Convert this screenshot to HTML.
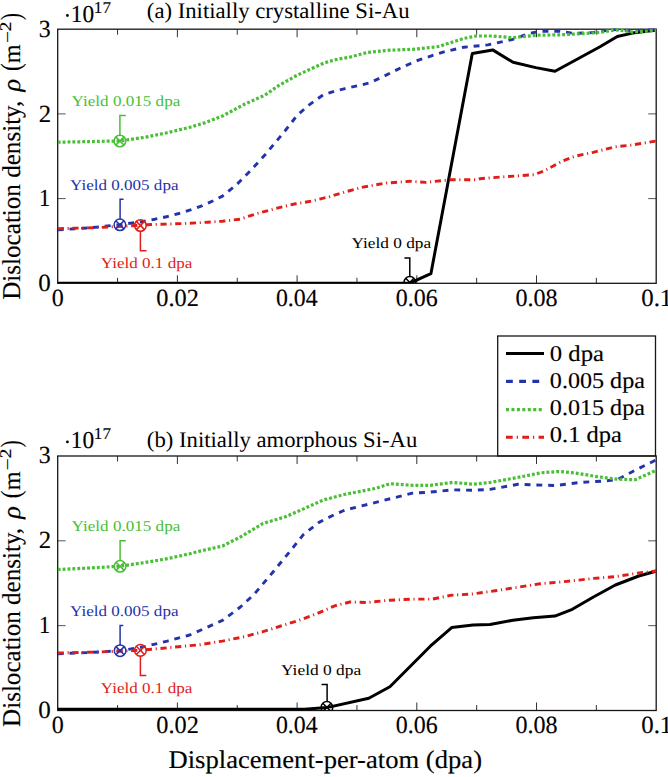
<!DOCTYPE html>
<html><head><meta charset="utf-8"><style>
html,body{margin:0;padding:0;background:#fff;width:668px;height:777px;overflow:hidden}
svg{display:block;font-family:"Liberation Serif",serif;text-rendering:geometricPrecision}
</style></head><body>
<svg width="668" height="777" viewBox="0 0 668 777">
<rect width="668" height="777" fill="#fff"/>
<text x="146.88" y="18.00" font-size="22.2" fill="#000" textLength="262.66" lengthAdjust="spacingAndGlyphs">(a) Initially crystalline Si-Au</text>
<circle cx="67.4" cy="15.5" r="1.4" fill="#000"/>
<text x="70.82" y="21.80" font-size="24.4" fill="#000" textLength="23.31" lengthAdjust="spacingAndGlyphs" stroke="#000" stroke-width="0.15">10</text>
<text x="93.84" y="12.60" font-size="16.5" fill="#000" textLength="17.18" lengthAdjust="spacingAndGlyphs" stroke="#000" stroke-width="0.15">17</text>
<g transform="translate(19.6,0) rotate(-90)">
<text x="-299.75" y="0.00" font-size="25.7" fill="#000" textLength="199.06" lengthAdjust="spacingAndGlyphs" stroke="#000" stroke-width="0.15">Dislocation density,</text>
<text x="-91.64" y="0.00" font-size="25.7" fill="#000" font-style="italic" textLength="12.63" lengthAdjust="spacingAndGlyphs" stroke="#000" stroke-width="0.15">ρ</text>
<text x="-70.94" y="0.00" font-size="28" fill="#000" textLength="7.71" lengthAdjust="spacingAndGlyphs" stroke="#000" stroke-width="0.15">(</text>
<text x="-63.18" y="0.00" font-size="24.5" fill="#000" textLength="18.79" lengthAdjust="spacingAndGlyphs" stroke="#000" stroke-width="0.15">m</text>
<text x="-43.06" y="-6.60" font-size="16.5" fill="#000" textLength="12.01" lengthAdjust="spacingAndGlyphs" stroke="#000" stroke-width="0.15">−</text>
<text x="-31.17" y="-8.30" font-size="16.5" fill="#000" textLength="9.62" lengthAdjust="spacingAndGlyphs" stroke="#000" stroke-width="0.15">2</text>
<text x="-20.12" y="0.00" font-size="28" fill="#000" textLength="6.92" lengthAdjust="spacingAndGlyphs" stroke="#000" stroke-width="0.15">)</text>
</g>
<line x1="117.55" y1="283.3" x2="117.55" y2="277.8" stroke="#333" stroke-width="1"/>
<line x1="117.55" y1="29.2" x2="117.55" y2="34.7" stroke="#333" stroke-width="1"/>
<line x1="177.40" y1="283.3" x2="177.40" y2="275.3" stroke="#333" stroke-width="1"/>
<line x1="177.40" y1="29.2" x2="177.40" y2="37.2" stroke="#333" stroke-width="1"/>
<line x1="237.25" y1="283.3" x2="237.25" y2="277.8" stroke="#333" stroke-width="1"/>
<line x1="237.25" y1="29.2" x2="237.25" y2="34.7" stroke="#333" stroke-width="1"/>
<line x1="297.10" y1="283.3" x2="297.10" y2="275.3" stroke="#333" stroke-width="1"/>
<line x1="297.10" y1="29.2" x2="297.10" y2="37.2" stroke="#333" stroke-width="1"/>
<line x1="356.95" y1="283.3" x2="356.95" y2="277.8" stroke="#333" stroke-width="1"/>
<line x1="356.95" y1="29.2" x2="356.95" y2="34.7" stroke="#333" stroke-width="1"/>
<line x1="416.80" y1="283.3" x2="416.80" y2="275.3" stroke="#333" stroke-width="1"/>
<line x1="416.80" y1="29.2" x2="416.80" y2="37.2" stroke="#333" stroke-width="1"/>
<line x1="476.65" y1="283.3" x2="476.65" y2="277.8" stroke="#333" stroke-width="1"/>
<line x1="476.65" y1="29.2" x2="476.65" y2="34.7" stroke="#333" stroke-width="1"/>
<line x1="536.50" y1="283.3" x2="536.50" y2="275.3" stroke="#333" stroke-width="1"/>
<line x1="536.50" y1="29.2" x2="536.50" y2="37.2" stroke="#333" stroke-width="1"/>
<line x1="596.35" y1="283.3" x2="596.35" y2="277.8" stroke="#333" stroke-width="1"/>
<line x1="596.35" y1="29.2" x2="596.35" y2="34.7" stroke="#333" stroke-width="1"/>
<line x1="57.7" y1="198.60" x2="65.7" y2="198.60" stroke="#555" stroke-width="1"/>
<line x1="656.2" y1="198.60" x2="648.2" y2="198.60" stroke="#555" stroke-width="1"/>
<line x1="57.7" y1="113.90" x2="65.7" y2="113.90" stroke="#555" stroke-width="1"/>
<line x1="656.2" y1="113.90" x2="648.2" y2="113.90" stroke="#555" stroke-width="1"/>
<rect x="57.7" y="29.2" width="598.5" height="254.10000000000002" fill="none" stroke="#161616" stroke-width="1.3"/>
<clipPath id="ca"><rect x="57.7" y="28.2" width="598.5" height="255.10000000000002"/></clipPath>
<g clip-path="url(#ca)">
<polyline points="57.7,283.2 409.8,283.2 430.9,273.7 472.3,53.5 492.7,49.9 513.1,62.3 535.8,67.6 555.0,71.2 600.0,46.8 617.3,36.5 632.5,33.1 660.0,29.5" fill="none" stroke="#000" stroke-width="3.0" stroke-linejoin="round"/>
<polyline points="57.7,229.8 58.0,229.8 90.0,227.8 120.1,224.6 140.0,222.0 155.0,219.2 167.5,216.5 178.9,213.5 190.4,209.9 201.7,205.9 213.4,200.7 222.5,196.1 235.9,185.3 249.4,171.8 265.1,154.8 274.1,144.0 285.3,130.5 296.6,116.0 307.8,105.8 323.5,94.6 334.7,91.2 345.0,88.6 358.5,85.6 369.7,82.9 383.2,76.6 401.1,67.7 419.1,59.8 444.8,51.6 464.0,47.2 487.9,44.9 511.9,39.6 528.6,33.6 540.6,31.2 559.8,31.2 574.0,33.4 591.8,32.6 612.2,29.6 632.5,30.6 660.0,29.3" fill="none" stroke="#2433aa" stroke-width="2.9" stroke-linejoin="round" stroke-dasharray="5.9 5.9"/>
<polyline points="57.7,142.2 58.0,142.2 90.0,141.6 120.1,140.9 145.0,137.3 167.0,132.8 190.0,127.2 205.0,122.7 222.5,116.0 245.0,104.0 265.0,95.1 278.6,85.6 296.6,75.5 323.5,63.2 334.7,59.8 350.0,57.1 367.5,52.4 389.9,50.2 412.4,49.3 430.3,47.5 440.0,46.3 446.1,44.1 464.0,38.4 476.0,36.0 492.7,36.0 511.9,37.7 521.4,36.7 535.8,35.3 559.8,34.8 583.7,33.6 600.0,32.4 617.3,29.6 632.5,32.1 660.0,30.2" fill="none" stroke="#48bf35" stroke-width="3.2" stroke-linejoin="round" stroke-dasharray="2.9 2.0"/>
<polyline points="57.7,228.7 58.0,228.7 100.0,227.5 140.4,225.3 147.5,224.7 184.9,223.5 207.4,222.2 222.5,221.2 240.0,219.2 256.1,213.8 274.1,208.9 294.3,204.0 312.3,201.0 330.2,196.5 345.0,192.0 363.0,187.1 385.4,183.1 410.1,181.3 425.8,182.4 450.5,179.7 475.2,179.7 480.0,178.7 506.9,176.6 533.9,174.7 544.7,170.7 560.8,161.8 574.3,156.4 593.2,152.3 614.7,146.9 630.9,145.1 660.0,140.5" fill="none" stroke="#e01d17" stroke-width="2.9" stroke-linejoin="round" stroke-dasharray="6.2 3.7 1.1 3.7"/>
<g stroke="#48bf35" stroke-width="1.5" fill="none"><circle cx="119.9" cy="141.0" r="5.8" fill="#fff" fill-opacity="0"/><path d="M115.80,136.90L124.00,145.10M115.80,145.10L124.00,136.90"/></g>
<path d="M119.9,135.6L119.9,115.6L125.8,115.6" fill="none" stroke="#48bf35" stroke-width="1.5" stroke-linejoin="miter"/>
<g stroke="#2433aa" stroke-width="1.5" fill="none"><circle cx="119.9" cy="224.8" r="5.8" fill="#fff" fill-opacity="0"/><path d="M115.80,220.70L124.00,228.90M115.80,228.90L124.00,220.70"/></g>
<path d="M120.1,219.4L120.1,199.2L123.6,199.2" fill="none" stroke="#2433aa" stroke-width="1.5" stroke-linejoin="miter"/>
<g stroke="#e01d17" stroke-width="1.5" fill="none"><circle cx="140.4" cy="225.5" r="5.8" fill="#fff" fill-opacity="0"/><path d="M136.30,221.40L144.50,229.60M136.30,229.60L144.50,221.40"/></g>
<path d="M140.4,230.9L140.4,250.7L146.5,250.7" fill="none" stroke="#e01d17" stroke-width="1.5" stroke-linejoin="miter"/>
<g stroke="#000" stroke-width="1.5" fill="none"><circle cx="409.8" cy="282.4" r="5.8" fill="#fff" fill-opacity="0"/><path d="M405.70,278.30L413.90,286.50M405.70,286.50L413.90,278.30"/></g>
<path d="M409.8,277.0L409.8,258.0L404.4,258.0" fill="none" stroke="#000" stroke-width="1.5" stroke-linejoin="miter"/>
</g>
<text x="71.63" y="106.00" font-size="15" fill="#48bf35" textLength="108.63" lengthAdjust="spacingAndGlyphs">Yield 0.015 dpa</text>
<text x="70.13" y="189.60" font-size="15" fill="#2433aa" textLength="108.33" lengthAdjust="spacingAndGlyphs">Yield 0.005 dpa</text>
<text x="100.83" y="268.30" font-size="15" fill="#e01d17" textLength="91.43" lengthAdjust="spacingAndGlyphs">Yield 0.1 dpa</text>
<text x="351.53" y="247.60" font-size="15" fill="#000" textLength="79.54" lengthAdjust="spacingAndGlyphs">Yield 0 dpa</text>
<text x="38.20" y="291.00" font-size="24.7" fill="#000" textLength="12.50" lengthAdjust="spacingAndGlyphs" stroke="#000" stroke-width="0.15">0</text>
<text x="39.01" y="206.30" font-size="24.7" fill="#000" textLength="11.13" lengthAdjust="spacingAndGlyphs" stroke="#000" stroke-width="0.15">1</text>
<text x="38.79" y="121.60" font-size="24.7" fill="#000" textLength="12.37" lengthAdjust="spacingAndGlyphs" stroke="#000" stroke-width="0.15">2</text>
<text x="38.83" y="36.90" font-size="24.7" fill="#000" textLength="11.93" lengthAdjust="spacingAndGlyphs" stroke="#000" stroke-width="0.15">3</text>
<text x="51.69" y="306.20" font-size="24.7" fill="#000" textLength="12.02" lengthAdjust="spacingAndGlyphs" stroke="#000" stroke-width="0.15">0</text>
<text x="156.33" y="306.20" font-size="24.7" fill="#000" textLength="42.51" lengthAdjust="spacingAndGlyphs" stroke="#000" stroke-width="0.15">0.02</text>
<text x="275.95" y="306.20" font-size="24.7" fill="#000" textLength="41.71" lengthAdjust="spacingAndGlyphs" stroke="#000" stroke-width="0.15">0.04</text>
<text x="395.74" y="306.20" font-size="24.7" fill="#000" textLength="41.87" lengthAdjust="spacingAndGlyphs" stroke="#000" stroke-width="0.15">0.06</text>
<text x="515.44" y="306.20" font-size="24.7" fill="#000" textLength="42.13" lengthAdjust="spacingAndGlyphs" stroke="#000" stroke-width="0.15">0.08</text>
<text x="641.21" y="306.20" font-size="24.7" fill="#000" textLength="31.09" lengthAdjust="spacingAndGlyphs" stroke="#000" stroke-width="0.15">0.1</text>
<rect x="497.7" y="336.0" width="157.8" height="120" fill="#fff" stroke="#161616" stroke-width="1.3"/>
<line x1="506" y1="353.6" x2="544" y2="353.6" stroke="#000" stroke-width="3"/>
<line x1="506" y1="381.4" x2="544" y2="381.4" stroke="#2433aa" stroke-width="3.1" stroke-dasharray="6.8 6.4"/>
<line x1="506" y1="409.6" x2="544" y2="409.6" stroke="#48bf35" stroke-width="3.2" stroke-dasharray="3 2.45"/>
<line x1="506" y1="437.3" x2="544" y2="437.3" stroke="#e01d17" stroke-width="3.1" stroke-dasharray="6.7 4 1.2 4.4"/>
<text x="549.81" y="360.60" font-size="22.6" fill="#000" textLength="54.23" lengthAdjust="spacingAndGlyphs" stroke="#000" stroke-width="0.15">0 dpa</text>
<text x="549.84" y="388.10" font-size="22.6" fill="#000" textLength="95.10" lengthAdjust="spacingAndGlyphs" stroke="#000" stroke-width="0.15">0.005 dpa</text>
<text x="549.84" y="415.20" font-size="22.6" fill="#000" textLength="95.10" lengthAdjust="spacingAndGlyphs" stroke="#000" stroke-width="0.15">0.015 dpa</text>
<text x="549.82" y="442.40" font-size="22.6" fill="#000" textLength="72.12" lengthAdjust="spacingAndGlyphs" stroke="#000" stroke-width="0.15">0.1 dpa</text>
<text x="146.88" y="447.00" font-size="22.2" fill="#000" textLength="270.36" lengthAdjust="spacingAndGlyphs">(b) Initially amorphous Si-Au</text>
<circle cx="67.4" cy="441.9" r="1.4" fill="#000"/>
<text x="70.82" y="448.20" font-size="24.4" fill="#000" textLength="23.31" lengthAdjust="spacingAndGlyphs" stroke="#000" stroke-width="0.15">10</text>
<text x="93.84" y="439.00" font-size="16.5" fill="#000" textLength="17.18" lengthAdjust="spacingAndGlyphs" stroke="#000" stroke-width="0.15">17</text>
<g transform="translate(19.6,427.2) rotate(-90)">
<text x="-299.75" y="0.00" font-size="25.7" fill="#000" textLength="199.06" lengthAdjust="spacingAndGlyphs" stroke="#000" stroke-width="0.15">Dislocation density,</text>
<text x="-91.64" y="0.00" font-size="25.7" fill="#000" font-style="italic" textLength="12.63" lengthAdjust="spacingAndGlyphs" stroke="#000" stroke-width="0.15">ρ</text>
<text x="-70.94" y="0.00" font-size="28" fill="#000" textLength="7.71" lengthAdjust="spacingAndGlyphs" stroke="#000" stroke-width="0.15">(</text>
<text x="-63.18" y="0.00" font-size="24.5" fill="#000" textLength="18.79" lengthAdjust="spacingAndGlyphs" stroke="#000" stroke-width="0.15">m</text>
<text x="-43.06" y="-6.60" font-size="16.5" fill="#000" textLength="12.01" lengthAdjust="spacingAndGlyphs" stroke="#000" stroke-width="0.15">−</text>
<text x="-31.17" y="-8.30" font-size="16.5" fill="#000" textLength="9.62" lengthAdjust="spacingAndGlyphs" stroke="#000" stroke-width="0.15">2</text>
<text x="-20.12" y="0.00" font-size="28" fill="#000" textLength="6.92" lengthAdjust="spacingAndGlyphs" stroke="#000" stroke-width="0.15">)</text>
</g>
<line x1="117.55" y1="710.5" x2="117.55" y2="705.0" stroke="#333" stroke-width="1"/>
<line x1="117.55" y1="456.0" x2="117.55" y2="461.5" stroke="#333" stroke-width="1"/>
<line x1="177.40" y1="710.5" x2="177.40" y2="702.5" stroke="#333" stroke-width="1"/>
<line x1="177.40" y1="456.0" x2="177.40" y2="464.0" stroke="#333" stroke-width="1"/>
<line x1="237.25" y1="710.5" x2="237.25" y2="705.0" stroke="#333" stroke-width="1"/>
<line x1="237.25" y1="456.0" x2="237.25" y2="461.5" stroke="#333" stroke-width="1"/>
<line x1="297.10" y1="710.5" x2="297.10" y2="702.5" stroke="#333" stroke-width="1"/>
<line x1="297.10" y1="456.0" x2="297.10" y2="464.0" stroke="#333" stroke-width="1"/>
<line x1="356.95" y1="710.5" x2="356.95" y2="705.0" stroke="#333" stroke-width="1"/>
<line x1="356.95" y1="456.0" x2="356.95" y2="461.5" stroke="#333" stroke-width="1"/>
<line x1="416.80" y1="710.5" x2="416.80" y2="702.5" stroke="#333" stroke-width="1"/>
<line x1="416.80" y1="456.0" x2="416.80" y2="464.0" stroke="#333" stroke-width="1"/>
<line x1="476.65" y1="710.5" x2="476.65" y2="705.0" stroke="#333" stroke-width="1"/>
<line x1="476.65" y1="456.0" x2="476.65" y2="461.5" stroke="#333" stroke-width="1"/>
<line x1="536.50" y1="710.5" x2="536.50" y2="702.5" stroke="#333" stroke-width="1"/>
<line x1="536.50" y1="456.0" x2="536.50" y2="464.0" stroke="#333" stroke-width="1"/>
<line x1="596.35" y1="710.5" x2="596.35" y2="705.0" stroke="#333" stroke-width="1"/>
<line x1="596.35" y1="456.0" x2="596.35" y2="461.5" stroke="#333" stroke-width="1"/>
<line x1="57.7" y1="625.67" x2="65.7" y2="625.67" stroke="#555" stroke-width="1"/>
<line x1="656.2" y1="625.67" x2="648.2" y2="625.67" stroke="#555" stroke-width="1"/>
<line x1="57.7" y1="540.83" x2="65.7" y2="540.83" stroke="#555" stroke-width="1"/>
<line x1="656.2" y1="540.83" x2="648.2" y2="540.83" stroke="#555" stroke-width="1"/>
<rect x="57.7" y="456.0" width="598.5" height="254.5" fill="none" stroke="#161616" stroke-width="1.3"/>
<clipPath id="cb"><rect x="57.7" y="455.0" width="598.5" height="255.5"/></clipPath>
<g clip-path="url(#cb)">
<polyline points="57.7,709.2 304.6,709.2 326.8,707.6 368.8,698.2 389.9,686.7 410.1,666.5 430.3,646.2 451.7,627.6 473.0,624.9 490.0,624.5 512.9,620.2 533.3,617.7 554.9,616.1 572.3,609.3 593.9,596.7 615.4,585.0 638.8,576.0 660.0,570.0" fill="none" stroke="#000" stroke-width="3.0" stroke-linejoin="round"/>
<polyline points="57.7,653.7 58.0,653.7 90.0,652.5 120.1,650.7 145.0,646.5 167.3,641.1 189.7,635.0 200.0,630.5 222.5,620.4 240.4,607.0 253.9,594.6 274.1,570.7 289.8,551.6 303.3,534.7 319.0,522.4 334.7,514.5 345.0,510.0 358.5,506.7 378.7,501.7 394.4,497.7 412.4,493.2 430.3,492.1 452.8,489.8 473.0,490.3 490.0,489.4 518.0,484.3 535.8,485.0 556.2,485.5 579.1,482.5 604.5,481.0 617.3,479.7 635.1,470.3 660.0,458.0" fill="none" stroke="#2433aa" stroke-width="2.9" stroke-linejoin="round" stroke-dasharray="5.9 5.9"/>
<polyline points="57.7,569.5 58.0,569.5 90.0,568.0 120.1,566.2 145.0,562.5 167.3,558.7 189.7,553.8 200.0,551.1 222.5,546.0 240.4,537.0 262.9,523.5 285.3,516.8 301.1,510.0 323.5,499.9 345.0,494.3 363.0,490.9 376.4,488.2 389.9,483.7 412.4,485.3 430.3,485.3 452.8,482.4 473.0,484.2 490.0,482.5 515.5,477.9 540.9,472.8 558.7,471.5 574.0,472.8 596.9,476.6 617.3,479.2 635.1,479.7 647.8,474.1 660.0,468.5" fill="none" stroke="#48bf35" stroke-width="3.2" stroke-linejoin="round" stroke-dasharray="2.9 2.0"/>
<polyline points="57.7,653.0 58.0,653.0 100.0,652.0 140.3,650.3 167.3,647.8 200.0,644.7 222.5,641.1 244.9,636.6 262.9,631.7 280.8,626.0 298.8,620.4 316.8,613.7 334.7,605.8 350.0,602.0 367.5,602.5 389.9,600.2 412.4,599.1 432.6,599.1 450.5,595.3 473.0,593.9 495.0,590.8 515.5,587.6 540.0,583.8 566.9,581.4 593.9,578.4 615.4,576.6 638.8,573.0 660.0,570.6" fill="none" stroke="#e01d17" stroke-width="2.9" stroke-linejoin="round" stroke-dasharray="6.2 3.7 1.1 3.7"/>
<g stroke="#48bf35" stroke-width="1.5" fill="none"><circle cx="120.1" cy="566.3" r="5.8" fill="#fff" fill-opacity="0"/><path d="M116.00,562.20L124.20,570.40M116.00,570.40L124.20,562.20"/></g>
<path d="M120.1,560.9L120.1,540.8L125.8,540.8" fill="none" stroke="#48bf35" stroke-width="1.5" stroke-linejoin="miter"/>
<g stroke="#2433aa" stroke-width="1.5" fill="none"><circle cx="120.1" cy="650.7" r="5.8" fill="#fff" fill-opacity="0"/><path d="M116.00,646.60L124.20,654.80M116.00,654.80L124.20,646.60"/></g>
<path d="M120.1,645.3L120.1,625.6L123.3,625.6" fill="none" stroke="#2433aa" stroke-width="1.5" stroke-linejoin="miter"/>
<g stroke="#e01d17" stroke-width="1.5" fill="none"><circle cx="140.4" cy="650.4" r="5.8" fill="#fff" fill-opacity="0"/><path d="M136.30,646.30L144.50,654.50M136.30,654.50L144.50,646.30"/></g>
<path d="M140.4,655.8L140.4,675.4L146.3,675.4" fill="none" stroke="#e01d17" stroke-width="1.5" stroke-linejoin="miter"/>
<g stroke="#000" stroke-width="1.5" fill="none"><circle cx="326.9" cy="707.4" r="5.8" fill="#fff" fill-opacity="0"/><path d="M322.80,703.30L331.00,711.50M322.80,711.50L331.00,703.30"/></g>
<path d="M327.1,702.0L327.1,684.6L321.5,684.6" fill="none" stroke="#000" stroke-width="1.5" stroke-linejoin="miter"/>
</g>
<text x="71.63" y="531.30" font-size="15" fill="#48bf35" textLength="108.63" lengthAdjust="spacingAndGlyphs">Yield 0.015 dpa</text>
<text x="70.13" y="615.60" font-size="15" fill="#2433aa" textLength="108.33" lengthAdjust="spacingAndGlyphs">Yield 0.005 dpa</text>
<text x="100.83" y="692.60" font-size="15" fill="#e01d17" textLength="91.43" lengthAdjust="spacingAndGlyphs">Yield 0.1 dpa</text>
<text x="281.03" y="674.80" font-size="15" fill="#000" textLength="80.14" lengthAdjust="spacingAndGlyphs">Yield 0 dpa</text>
<text x="38.20" y="717.90" font-size="24.7" fill="#000" textLength="12.50" lengthAdjust="spacingAndGlyphs" stroke="#000" stroke-width="0.15">0</text>
<text x="39.01" y="633.07" font-size="24.7" fill="#000" textLength="11.13" lengthAdjust="spacingAndGlyphs" stroke="#000" stroke-width="0.15">1</text>
<text x="38.79" y="548.23" font-size="24.7" fill="#000" textLength="12.37" lengthAdjust="spacingAndGlyphs" stroke="#000" stroke-width="0.15">2</text>
<text x="38.83" y="463.40" font-size="24.7" fill="#000" textLength="11.93" lengthAdjust="spacingAndGlyphs" stroke="#000" stroke-width="0.15">3</text>
<text x="51.69" y="733.40" font-size="24.7" fill="#000" textLength="12.02" lengthAdjust="spacingAndGlyphs" stroke="#000" stroke-width="0.15">0</text>
<text x="156.33" y="733.40" font-size="24.7" fill="#000" textLength="42.51" lengthAdjust="spacingAndGlyphs" stroke="#000" stroke-width="0.15">0.02</text>
<text x="275.95" y="733.40" font-size="24.7" fill="#000" textLength="41.71" lengthAdjust="spacingAndGlyphs" stroke="#000" stroke-width="0.15">0.04</text>
<text x="395.74" y="733.40" font-size="24.7" fill="#000" textLength="41.87" lengthAdjust="spacingAndGlyphs" stroke="#000" stroke-width="0.15">0.06</text>
<text x="515.44" y="733.40" font-size="24.7" fill="#000" textLength="42.13" lengthAdjust="spacingAndGlyphs" stroke="#000" stroke-width="0.15">0.08</text>
<text x="641.21" y="733.40" font-size="24.7" fill="#000" textLength="31.09" lengthAdjust="spacingAndGlyphs" stroke="#000" stroke-width="0.15">0.1</text>
<text x="168.50" y="768.10" font-size="25.5" fill="#000" textLength="313.50" lengthAdjust="spacingAndGlyphs" stroke="#000" stroke-width="0.15">Displacement-per-atom (dpa)</text>
</svg>
</body></html>
